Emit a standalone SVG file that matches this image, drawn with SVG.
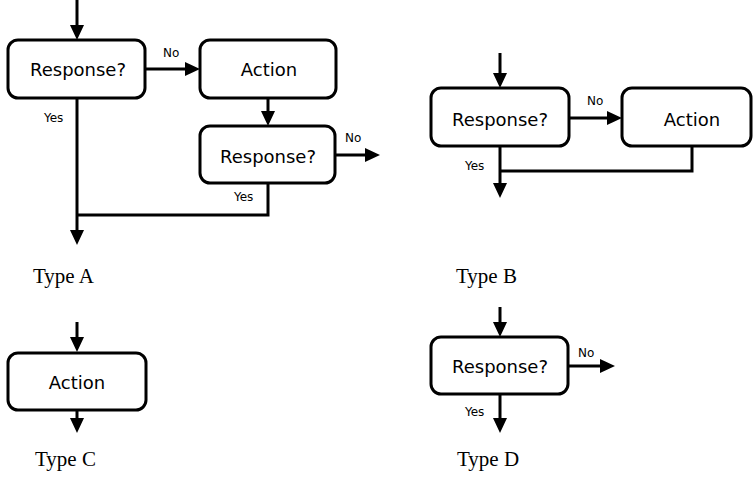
<svg xmlns="http://www.w3.org/2000/svg" width="753" height="477" viewBox="0 0 753 477">
<style>
.box{fill:#fff;stroke:#000;stroke-width:3}
.lbl{font-family:"Comic Sans MS","DejaVu Sans",sans-serif;font-size:18px;fill:#000;text-anchor:middle}
.sm{font-family:"Comic Sans MS","DejaVu Sans",sans-serif;font-size:12px;fill:#000}
.ty{font-family:"Liberation Serif","Times New Roman",serif;font-size:21px;fill:#000}
.c{fill:none;stroke:#000;stroke-width:3}
.a{marker-end:url(#ah)}
</style>
<defs>
<marker id="ah" markerUnits="userSpaceOnUse" markerWidth="15" markerHeight="14" refX="10" refY="7" orient="auto">
<path d="M0,0 L15,7 L0,14 z" fill="#000"/>
</marker>
</defs>
<g id="connectors">
<path class="c a" d="M77,0 V35"/>
<path class="c a" d="M145,69 H195"/>
<path class="c a" d="M268,98 V121"/>
<path class="c a" d="M335,155 H375"/>
<path class="c" d="M268,183 V215 H77"/>
<path class="c a" d="M77,98 V240"/>
<path class="c a" d="M500,53 V83"/>
<path class="c a" d="M569,118 H617"/>
<path class="c" d="M692,146 V171 H500"/>
<path class="c a" d="M500,146 V193"/>
<path class="c a" d="M77,322 V347"/>
<path class="c a" d="M77,410 V428"/>
<path class="c a" d="M500,307 V332"/>
<path class="c a" d="M568,366 H610"/>
<path class="c a" d="M500,394 V428"/>
<text class="sm" x="163" y="57">No</text>
<text class="sm" x="345" y="142">No</text>
<text class="sm" x="44" y="122">Yes</text>
<text class="sm" x="234" y="201">Yes</text>
<text class="sm" x="587" y="105">No</text>
<text class="sm" x="465" y="170">Yes</text>
<text class="sm" x="578" y="357">No</text>
<text class="sm" x="465" y="416">Yes</text>
</g>
<g id="a-response1"><rect class="box" x="8" y="40" width="137" height="58" rx="10"/><text class="lbl" x="78" y="76">Response?</text></g>
<g id="a-action"><rect class="box" x="200" y="40" width="136" height="58" rx="10"/><text class="lbl" x="269" y="76">Action</text></g>
<g id="a-response2"><rect class="box" x="200" y="126" width="135" height="57" rx="10"/><text class="lbl" x="268" y="163">Response?</text></g>
<g id="b-response"><rect class="box" x="431" y="88" width="138" height="58" rx="10"/><text class="lbl" x="500" y="126">Response?</text></g>
<g id="b-action"><rect class="box" x="622" y="88" width="129" height="58" rx="10"/><text class="lbl" x="692" y="126">Action</text></g>
<g id="c-action"><rect class="box" x="8" y="353" width="138" height="57" rx="10"/><text class="lbl" x="77" y="389">Action</text></g>
<g id="d-response"><rect class="box" x="431" y="337" width="137" height="57" rx="10"/><text class="lbl" x="500" y="373">Response?</text></g>
<g id="captions">
<text class="ty" x="33" y="283">Type A</text>
<text class="ty" x="456" y="283">Type B</text>
<text class="ty" x="35" y="466">Type C</text>
<text class="ty" x="457" y="466">Type D</text>
</g>
</svg>
